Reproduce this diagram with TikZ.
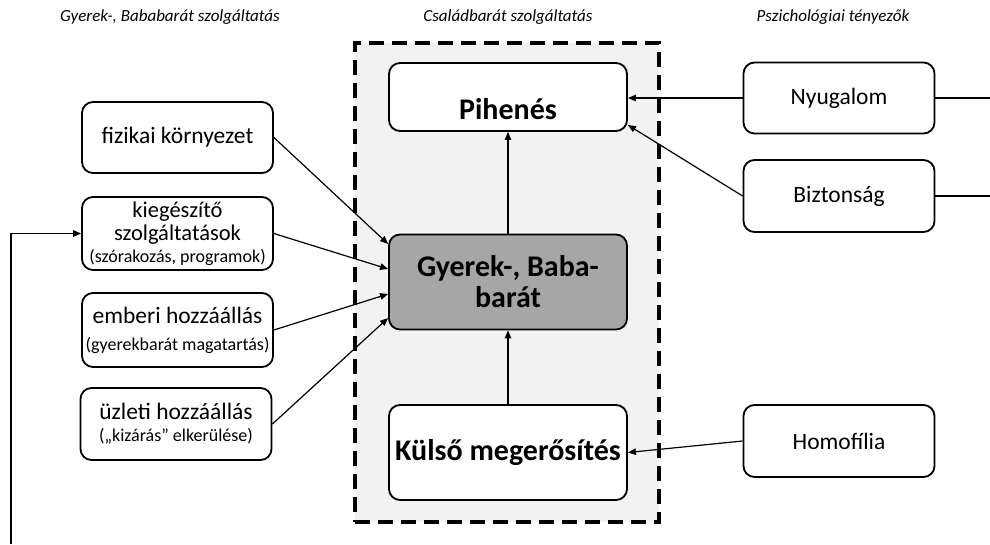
\documentclass[tikz,border=0pt]{standalone}
\usepackage{fontspec}
\setmainfont{Carlito}
\usetikzlibrary{arrows.meta,calc}
\definecolor{panel}{HTML}{F2F2F2}
\definecolor{core}{HTML}{A6A6A6}
\newcommand{\smalltxt}{\fontsize{18}{19}\selectfont}
\begin{document}
\begin{tikzpicture}[x=1pt,y=-1pt,
 box/.style={draw=black, line width=1.8pt, rounded corners=11pt, fill=white, align=center, inner sep=0pt},
 bigbox/.style={box, minimum width=238pt, minimum height=95pt, font=\bfseries\fontsize{30}{31}\selectfont},
 sidebox/.style={box, minimum width=191pt, minimum height=72pt, font=\fontsize{23.5}{24}\selectfont},
 conn/.style={line width=1.2pt, -{Triangle[length=8pt,width=6.5pt]}},
 plainline/.style={line width=1.2pt},
 hdr/.style={font=\itshape\fontsize{17}{20}\selectfont, inner sep=0pt},
 panelbox/.style={draw=black, line width=3.5pt, dash pattern=on 15pt off 8pt, fill=panel, inner sep=0pt}]
\useasboundingbox (0,0) rectangle (990,544);

\node[hdr] (h1) at (170,17) {Gyerek-, Bababarát szolgáltatás};
\node[hdr] (h2) at (508,17) {Családbarát szolgáltatás};
\node[hdr] (h3) at (833,17) {Pszichológiai tényezők};

\node[panelbox, minimum width=304pt, minimum height=479pt] (fam) at (507,282.5) {};

\node[bigbox, minimum height=68pt] (pih) at (508,97) {\raisebox{-12pt}[\height][\depth]{Pihenés}};
\node[bigbox, fill=core] (gy) at (508,282) {Gyerek-, Baba-\\barát};
\node[bigbox] (kul) at (508,452.5) {Külső megerősítés};

\node[sidebox, minimum height=71pt] (fiz) at (177.5,137.5) {fizikai környezet};
\node[sidebox, minimum height=73pt, font=\fontsize{22.5}{23}\selectfont] (kie) at (177.5,233.5) {kiegészítő\\szolgáltatások\\[-1pt]{\smalltxt(szórakozás, programok)}};
\node[sidebox, minimum height=74pt] (emb) at (177.5,330) {emberi hozzáállás\\[3pt]{\smalltxt(gyerekbarát magatartás)}};
\node[sidebox] (uzl) at (176,424) {üzleti hozzáállás\\[-2pt]{\smalltxt(„kizárás” elkerülése)}};

\node[sidebox, minimum height=71pt] (nyu) at (839,98) {Nyugalom};
\node[sidebox] (biz) at (839,196) {Biztonság};
\node[sidebox] (hom) at (839,441) {Homofília};

\draw[conn] (fiz.east) -- ($(gy.west)+(0,-38)$);
\draw[conn] (kie.east) -- ($(gy.west)+(0,-13)$);
\draw[conn] (emb.east) -- ($(gy.west)+(0,12)$);
\draw[conn] (uzl.east) -- ($(gy.west)+(0,36)$);
\draw[conn] (gy.north) -- (pih.south);
\draw[conn] (kul.north) -- (gy.south);
\draw[conn] (nyu.west) -- (nyu.west -| pih.east);
\draw[conn] (biz.west) -- ($(pih.east)+(0,28)$);
\draw[conn] (hom.west) -- (kul.east);
\coordinate (nyuend) at (990,98);
\coordinate (bizend) at (990,196);
\draw[plainline] (nyu.east) -- (nyuend);
\draw[plainline] (biz.east) -- (bizend);
\coordinate (loopstart) at (11,544);
\draw[conn] (loopstart) |- (kie.west);
\end{tikzpicture}
\end{document}
